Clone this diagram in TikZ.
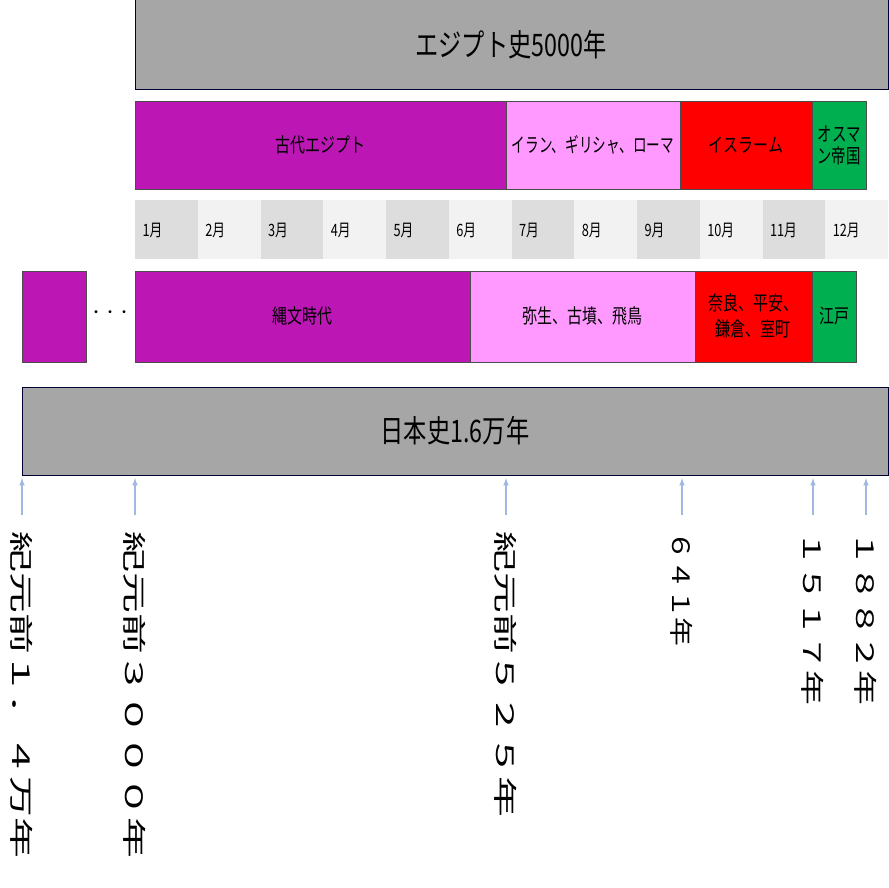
\documentclass[tikz,border=0pt]{standalone}
\usepackage{fontspec}
\newfontfamily\jp{Noto Sans CJK JP}
\definecolor{gbar}{HTML}{A6A6A6}
\definecolor{pur}{HTML}{BC17B4}
\definecolor{pnk}{HTML}{FF99FF}
\definecolor{grn}{HTML}{00B050}
\definecolor{mA}{HTML}{DDDDDD}
\definecolor{mB}{HTML}{F2F2F2}
\definecolor{arr}{HTML}{4472C4}
\begin{document}
\begin{tikzpicture}[x=1pt,y=-1pt,
 blk/.style={draw=black!70,line width=0.8pt,font=\jp\fontsize{20}{22}\selectfont,align=center,inner sep=0pt},
 ttl/.style={draw=black!80!blue,line width=1pt,fill=gbar},
 ttxt/.style={font=\jp\fontsize{31}{34}\selectfont},
 mon/.style={font=\jp\fontsize{17}{19}\selectfont,anchor=west},
 lab/.style={font=\jp\fontsize{24}{26}\selectfont,rotate=-90,anchor=west},
 up/.style={-latex,draw=arr!50,line width=1.5pt}]
\useasboundingbox (0,0) rectangle (888,888);
% top
\draw[ttl] (135,0) rectangle (888,90);
\node[ttxt] (t1) at (511,45) {\scalebox{0.75}[1]{エジプト史5000年}};
% row 2
\draw[blk,fill=pur] (135,101) rectangle (506,189);
\draw[blk,fill=pnk] (506,101) rectangle (680,189);
\draw[blk,fill=red] (680,101) rectangle (812,189);
\draw[blk,fill=grn] (812,101) rectangle (866,189);
\node[blk,draw=none] (e1) at (320,145) {\scalebox{0.75}[1]{古代エジプト}};
\node[blk,draw=none] (e2) at (593,145) {\scalebox{0.68}[1]{イラン、ギリシャ、ローマ}};
\node[blk,draw=none] (e3) at (746,145) {\scalebox{0.75}[1]{イスラーム}};
\node[blk,draw=none] (e4) at (839,145) {\scalebox{0.72}[1]{オスマ}\\\scalebox{0.72}[1]{ン帝国}};
% months
\foreach \i in {1,...,12}{
 \pgfmathsetmacro\xa{135+(\i-1)*62.75}
 \pgfmathsetmacro\xb{135+\i*62.75}
 \pgfmathparse{mod(\i,2)==1?"mA":"mB"}
 \fill[\pgfmathresult] (\xa,200) rectangle (\xb,259);
 \node[mon] (m\i) at (\xa+4,230) {\scalebox{0.75}[1]{\i 月}};
}
% row 4
\draw[blk,fill=pur] (22,271) rectangle (86,362);
\node[font=\jp\fontsize{14}{16}\selectfont] (dots) at (110,314) {・・・};
\draw[blk,fill=pur] (135,271) rectangle (470,362);
\draw[blk,fill=pnk] (470,271) rectangle (695,362);
\draw[blk,fill=red] (695,271) rectangle (812,362);
\draw[blk,fill=grn] (812,271) rectangle (856,362);
\node[blk,draw=none] (j1) at (302,316) {\scalebox{0.75}[1]{縄文時代}};
\node[blk,draw=none] (j2) at (582,316) {\scalebox{0.75}[1]{弥生、古墳、飛鳥}};
\node[blk,draw=none] (j3) at (753,316) {\scalebox{0.75}[1]{奈良、平安、}\\[4pt]\scalebox{0.75}[1]{鎌倉、室町}};
\node[blk,draw=none] (j4) at (834,316) {\scalebox{0.75}[1]{江戸}};
% bottom
\draw[ttl] (22,387) rectangle (888,475);
\node[ttxt] (t2) at (455,431) {\scalebox{0.75}[1]{日本史1.6万年}};
% arrows and labels
\foreach \x/\n/\s/\t in {22/a/1.7/紀元前１．４万年,135/b/1.7/紀元前３０００年,506/c/1.7/紀元前５２５年,682/d/1.2/６４１年,813/e/1.45/１５１７年,866/f/1.45/１８８２年}{
 \coordinate (s\n) at (\x,515);
 \coordinate (h\n) at (\x,478);
 \draw[up] (s\n) -- (h\n);
 \node[lab] (l\n) at (\x,528) {\scalebox{\s}[1]{\t}};
}
\end{tikzpicture}
\end{document}
